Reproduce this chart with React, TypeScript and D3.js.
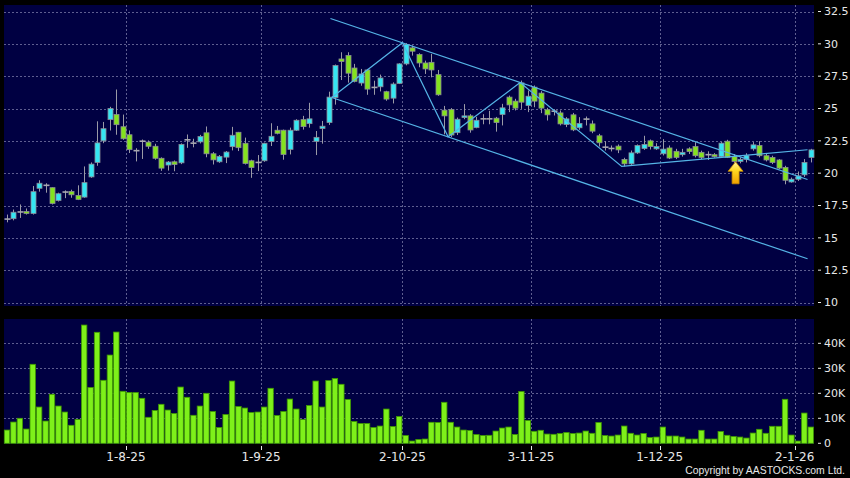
import React from 'react';
import * as d3 from 'd3';

// ---- Data ----
const opens = [16.45,16.48,17.0,17.03,16.88,18.83,19.06,18.88,17.89,18.54,18.59,18.28,18.15,19.71,20.83,22.5,24.14,24.53,23.59,22.97,21.74,22.47,22.4,22.08,21.15,20.63,20.88,20.8,22.58,22.32,22.42,23.12,21.5,20.88,21.24,22.05,23.16,22.31,20.96,20.83,20.96,22.44,23.32,23.32,21.84,23.32,24.14,23.83,22.46,23.45,23.91,25.85,28.83,29.1,28.13,26.97,27.98,26.63,26.68,26.3,25.8,26.94,28.45,29.69,29.17,28.52,28.57,27.62,24.87,24.92,23.13,24.3,24.43,23.52,24.2,24.2,24.25,24.54,25.88,25.57,26.98,25.23,26.65,26.19,24.9,24.79,24.66,23.76,24.51,23.51,24.18,23.81,22.89,22.01,21.91,22.09,21.06,20.72,21.57,21.91,22.5,21.88,21.5,21.95,21.69,21.43,21.88,22.06,21.61,21.43,21.43,21.28,22.47,21.28,20.91,21.07,21.88,22.14,21.35,21.22,21.02,20.44,19.32,19.53,19.87,21.22];
const highs = [16.8,17.19,17.58,17.27,19.01,19.45,19.22,18.9,18.49,18.67,18.72,19.06,20.52,20.83,24.01,23.96,25.13,26.47,24.53,23.3,21.93,22.6,22.53,22.27,21.22,20.94,20.98,22.3,22.99,22.66,22.96,23.61,21.63,21.4,21.71,23.58,23.19,22.75,21.04,21.4,22.36,23.86,23.65,23.37,23.52,24.17,24.43,25.44,23.26,24.04,26.3,28.4,29.35,29.35,28.45,28.06,28.06,27.15,27.62,26.37,27.02,28.5,30.05,29.87,29.27,28.7,29.22,27.98,25.2,25.03,24.3,25.34,24.56,24.35,24.56,24.82,24.35,25.36,26.0,25.75,27.16,26.39,26.78,26.34,25.05,24.95,24.85,24.33,24.66,24.33,24.38,24.07,23.04,22.47,22.14,22.22,21.19,21.75,22.22,22.89,22.6,22.32,22.63,22.14,21.88,21.88,22.0,22.4,21.74,21.69,21.55,22.4,22.58,21.48,21.22,21.54,22.4,22.47,21.48,21.35,21.09,20.57,19.66,20.13,21.09,21.88];
const lows = [16.2,16.35,16.54,16.8,16.8,18.57,18.49,17.58,17.81,18.07,18.1,17.92,18.1,19.64,20.57,22.32,23.3,22.97,22.58,21.56,20.91,21.1,21.88,21.04,20.18,20.2,20.15,20.7,21.96,22.0,22.3,21.23,20.67,20.8,20.78,21.76,21.71,20.67,19.64,20.16,20.88,22.1,23.0,21.04,21.45,23.26,23.37,23.52,21.4,22.28,23.73,25.3,27.2,27.0,27.02,26.76,26.06,26.06,26.32,25.6,25.39,26.89,28.34,29.09,28.19,27.67,27.41,25.98,23.0,22.8,22.95,24.17,23.13,23.47,23.78,23.78,23.21,23.69,24.72,24.85,24.97,24.72,25.1,24.64,24.07,24.46,23.69,23.56,23.25,23.35,23.69,23.09,22.06,21.75,21.68,21.55,20.52,20.64,21.49,21.8,21.83,21.8,21.37,21.09,21.09,21.28,21.48,21.22,21.09,21.02,21.2,21.22,21.17,20.76,20.76,20.83,21.74,21.22,20.91,20.7,20.31,19.14,19.27,19.4,19.71,20.83];
const closes = [16.45,16.98,17.0,16.88,18.57,19.22,19.06,17.66,18.41,18.54,18.33,17.97,19.27,20.7,22.34,23.44,25.0,23.75,22.66,21.82,21.74,22.47,22.08,21.15,20.39,20.86,20.67,22.22,22.58,22.32,22.83,21.5,21.03,21.3,21.63,22.93,21.97,20.75,20.44,20.83,22.31,22.85,23.08,21.45,23.32,24.09,23.6,24.2,22.77,23.63,25.88,28.32,28.63,27.73,27.1,27.67,26.5,26.63,27.36,25.73,26.89,28.45,29.95,29.43,28.52,28.06,27.98,26.06,24.43,22.95,24.17,24.43,23.34,24.09,24.2,24.2,23.91,25.05,25.28,25.03,25.49,25.95,25.57,25.03,24.51,24.79,23.81,24.2,23.35,23.84,24.18,23.25,22.35,22.01,21.91,21.8,20.72,21.57,22.14,22.22,22.06,22.06,21.86,21.17,21.22,21.61,21.67,21.35,21.22,21.43,21.28,22.32,21.22,20.91,21.07,21.35,22.19,21.35,21.02,20.83,20.39,19.45,19.53,19.79,20.83,21.8];
const volumesK = [5.3,8.5,10,5.7,31.6,14.5,8.9,19.6,14.9,12.5,7.2,9.5,47.3,22.3,44.4,25.2,35.3,44.5,20.8,20.3,20.3,18.0,10.4,13.1,15.6,13.3,11.9,22.5,18.4,11.2,14.9,20.0,12.7,6.3,11.5,24.9,14.7,14.1,12.3,12.5,14.5,22.0,11.1,12.7,17.7,13.7,9.5,15.1,24.9,14.5,25.1,25.9,23.6,17.5,8.7,7.9,7.9,6.3,6.9,13.7,6.7,10.7,3.1,0.9,1.5,1.7,8.4,8.3,16.4,8.4,6.5,5.3,5.1,3.5,3.1,3.2,4.9,6.1,6.5,3.5,20.7,9.1,4.8,5.2,3.7,3.6,3.9,4.3,3.9,4.1,4.9,4.0,8.3,3.1,2.9,3.3,6.9,4.0,3.3,3.9,2.3,2.5,6.5,2.9,2.9,2.5,1.7,1.7,5.2,1.7,1.7,4.7,3.2,2.7,2.5,2.1,4.1,5.6,4.0,6.8,6.8,17.6,3.3,0.9,12.1,6.5];

const priceTicks = [10, 12.5, 15, 17.5, 20, 22.5, 25, 27.5, 30, 32.5];
const volumeTicks = [0, 10000, 20000, 30000, 40000];
const volumeTickLabels = ['0', '10K', '20K', '30K', '40K'];
const dateTickIdx = [18, 39, 61, 81, 101, 122];
const dateTickLabels = ['1-8-25', '1-9-25', '2-10-25', '3-11-25', '1-12-25', '2-1-26'];

// trend lines as [index, price]
const zigzag: [number, number][] = [[50.5, 25.85], [61.5, 30.09], [68.6, 22.81], [79.8, 27.01], [95.6, 20.52], [124.5, 21.81]];
const upperChannel: [number, number][] = [[50.3, 31.96], [124.5, 19.51]];
const lowerChannel: [number, number][] = [[50.5, 25.85], [124.5, 13.38]];
const arrowIndex = 113;
const arrowPrice = 20.88;

const NAVY = '#000042';
const GRID = '#5e5e90';
const CYAN = '#35e6f2';
const GREEN = '#84e21e';
const VOL = '#7ef01a';
const TXT = '#e8e8e8';
const TREND = '#55b4e6';

export default function App() {
  const W = 850, H = 478;
  const n = closes.length;
  const x = d3.scaleLinear().domain([0, n - 1]).range([7, 810.75]);
  const yP = d3.scaleLinear().domain([10, 32.5]).range([302.5, 11.5]);
  const yV = d3.scaleLinear().domain([0, 40000]).range([443.3, 343.3]);
  const line = d3.line<[number, number]>().x(d => x(d[0])).y(d => yP(d[1]));

  const main = { x0: 4, x1: 814, y0: 5, y1: 306 };
  const vol = { x0: 4, x1: 814, y0: 319, y1: 444 };
  const bw = 5;
  const vbw = 5.4;

  const ax = x(arrowIndex) + 2;
  const ay = yP(arrowPrice);

  return (
    <svg width={W} height={H} style={{ position: 'absolute', left: 0, top: 0, background: '#000' }}
      fontFamily="DejaVu Sans, sans-serif">
      <defs>
        <clipPath id="mainClip"><rect x={main.x0} y={main.y0} width={main.x1 - main.x0} height={main.y1 - main.y0} /></clipPath>
        <linearGradient id="arrowGrad" x1="0" y1="0" x2="0" y2="1">
          <stop offset="0" stopColor="#fff6a0" />
          <stop offset="0.4" stopColor="#ffd820" />
          <stop offset="1" stopColor="#f0a000" />
        </linearGradient>
      </defs>
      <rect x={0} y={0} width={W} height={H} fill="#000" />
      <rect x={main.x0} y={main.y0} width={main.x1 - main.x0} height={main.y1 - main.y0} fill={NAVY} />
      <rect x={vol.x0} y={vol.y0} width={vol.x1 - vol.x0} height={vol.y1 - vol.y0} fill={NAVY} />

      {/* price grid */}
      {priceTicks.map(t => (
        <line key={'pg' + t} x1={main.x0} x2={main.x1} y1={Math.round(yP(t)) + 0.5} y2={Math.round(yP(t)) + 0.5}
          stroke={GRID} strokeDasharray="2,2" strokeWidth={1} />
      ))}
      {dateTickIdx.map(i => (
        <line key={'vg' + i} x1={Math.round(x(i + 0.5)) + 0.5} x2={Math.round(x(i + 0.5)) + 0.5} y1={main.y0} y2={main.y1}
          stroke={GRID} strokeDasharray="2,2" strokeWidth={1} />
      ))}
      {/* volume grid */}
      {volumeTicks.slice(1).map(t => (
        <line key={'vgh' + t} x1={vol.x0} x2={vol.x1} y1={Math.round(yV(t)) + 0.5} y2={Math.round(yV(t)) + 0.5}
          stroke={GRID} strokeDasharray="2,2" strokeWidth={1} />
      ))}
      {dateTickIdx.map(i => (
        <line key={'vgv' + i} x1={Math.round(x(i + 0.5)) + 0.5} x2={Math.round(x(i + 0.5)) + 0.5} y1={vol.y0} y2={vol.y1}
          stroke={GRID} strokeDasharray="2,2" strokeWidth={1} />
      ))}

      {/* candles */}
      {closes.map((c, i) => {
        const o = opens[i], h = highs[i], l = lows[i];
        const cx = Math.round(x(i)) + 0.5;
        const doji = Math.abs(c - o) < 0.001;
        const top = yP(Math.max(o, c)), bot = yP(Math.min(o, c));
        return (
          <g key={'c' + i}>
            <line x1={cx} x2={cx} y1={yP(h)} y2={yP(l)} stroke="#9a9aa6" strokeWidth={1} />
            {doji ? (
              <line x1={cx - 3} x2={cx + 3} y1={top} y2={top} stroke="#a8a8b0" strokeWidth={1.6} />
            ) : (
              <rect x={cx - bw / 2} y={top} width={bw} height={Math.max(1, bot - top)}
                fill={c > o ? CYAN : GREEN} stroke="#8a8a96" strokeWidth={0.8} />
            )}
          </g>
        );
      })}

      {/* trend lines */}
      <g clipPath="url(#mainClip)" fill="none" stroke={TREND} strokeWidth={1.2}>
        <path d={line(upperChannel) || ''} />
        <path d={line(lowerChannel) || ''} />
        <path d={line(zigzag) || ''} />
      </g>

      {/* arrow */}
      <polygon
        points={[
          [ax, ay], [ax + 7.5, ay + 9.5], [ax + 3.5, ay + 9.5], [ax + 3.5, ay + 22], [ax - 3.5, ay + 22],
          [ax - 3.5, ay + 9.5], [ax - 7.5, ay + 9.5]
        ].map(p => p.join(',')).join(' ')}
        fill="url(#arrowGrad)" stroke="#c88a00" strokeWidth={0.8} />

      {/* volume bars */}
      {volumesK.map((v, i) => {
        const cx = x(i);
        const yv = yV(v * 1000);
        return (
          <rect key={'v' + i} x={cx - vbw / 2} y={yv} width={vbw} height={yV(0) - yv}
            fill={VOL} stroke="#3f9a00" strokeWidth={0.8} />
        );
      })}

      {/* price axis */}
      {priceTicks.map(t => (
        <g key={'pa' + t}>
          <line x1={818} x2={821} y1={yP(t)} y2={yP(t)} stroke={TXT} strokeWidth={1} />
          <text x={824} y={yP(t)} dy="0.36em" fontSize={11} fill={TXT}>{String(t)}</text>
        </g>
      ))}
      {/* volume axis */}
      {volumeTicks.map((t, k) => (
        <g key={'va' + t}>
          <line x1={818} x2={821} y1={yV(t)} y2={yV(t)} stroke={TXT} strokeWidth={1} />
          <text x={824} y={yV(t)} dy="0.36em" fontSize={11} fill={TXT}>{volumeTickLabels[k]}</text>
        </g>
      ))}
      {/* date axis */}
      {dateTickIdx.map((i, k) => (
        <g key={'da' + i}>
          <line x1={Math.round(x(i + 0.5)) + 0.5} x2={Math.round(x(i + 0.5)) + 0.5} y1={446} y2={450} stroke={TXT} strokeWidth={1} />
          <text x={x(i + 0.5)} y={461} textAnchor="middle" fontSize={12} fill={TXT}>{dateTickLabels[k]}</text>
        </g>
      ))}
      <text x={845} y={474} textAnchor="end" fontSize={10.4} fontFamily="Liberation Sans, Arial, sans-serif" fill={TXT}>
        Copyright by AASTOCKS.com Ltd.
      </text>
    </svg>
  );
}
